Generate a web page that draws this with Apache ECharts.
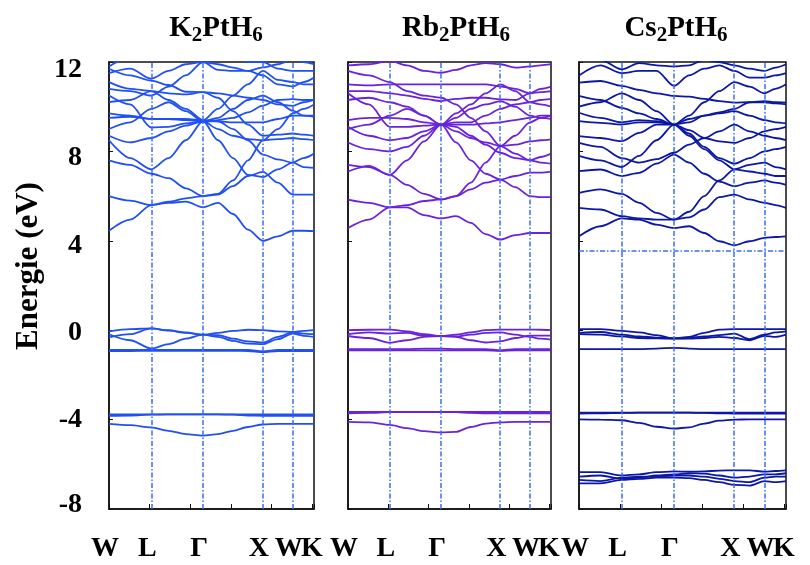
<!DOCTYPE html>
<html>
<head>
<meta charset="utf-8">
<script src="https://cdn.jsdelivr.net/npm/echarts@6/dist/echarts.min.js"></script>
<style>
  html, body { margin: 0; padding: 0; background: #fff; }
  #chart { width: 810px; height: 565px; }
</style>
</head>
<body>
<div id="chart"></div>
<script>
// k-path W-L-Γ-X-W-K (distance in units of 2π/a) and the sampled points along it
const kPath = [0, 0.354, 0.707, 0.996, 1.284, 1.573, 1.823, 2.073, 2.323, 2.573, 2.823, 3.073, 3.25, 3.427];
const symPoints = [0, 0.707, 1.573, 2.573, 3.073];
const symLabels = ['W', 'L', 'Γ', 'X', 'W'];
const endPoint = 3.427;
const endLabel = 'K';
const symLines = [0.707, 1.573, 2.573, 3.073];
const energyTicks = [-8, -4, 0, 4, 8, 12];
const compounds = [['K', '2', 'PtH', '6'], ['Rb', '2', 'PtH', '6'], ['Cs', '2', 'PtH', '6']];

// K2PtH6 bands (eV)
const bandsK = [
  [4.45, 4.95, 5.6, 5.7, 5.75, 5.5, 5.7, 5.2, 4.5, 4.0, 4.2, 4.45, 4.45, 4.43],
  [6.0, 5.8, 5.6, 5.75, 5.9, 6.0, 6.07, 6.45, 6.9, 7.08, 6.6, 6.07, 6.07, 6.07],
  [8.5, 7.7, 7.2, 7.7, 8.5, 9.35, 8.5, 7.7, 6.95, 6.85, 7.2, 7.5, 7.3, 7.26],
  [7.6, 7.4, 7.0, 6.8, 6.35, 6.0, 6.1, 6.7, 7.6, 8.5, 8.55, 8.6, 8.55, 8.5],
  [8.7, 8.4, 8.6, 8.9, 9.15, 9.35, 9.35, 9.0, 8.5, 7.86, 7.64, 7.5, 7.7, 7.9],
  [9.5, 9.55, 9.45, 9.45, 9.4, 9.35, 9.4, 9.5, 9.75, 10.05, 10.3, 10.34, 10.3, 10.3],
  [11.7, 11.4, 11.17, 10.97, 10.67, 10.65, 10.4, 9.8, 9.2, 8.7, 8.75, 8.8, 8.75, 8.7],
  [9.7, 9.6, 9.45, 9.45, 9.45, 9.4, 9.35, 9.3, 9.3, 9.3, 9.45, 9.6, 9.6, 9.6],
  [10.5, 10.1, 9.07, 9.1, 9.25, 9.35, 9.5, 9.9, 10.3, 10.5, 10.2, 9.82, 9.6, 9.55],
  [10.8, 10.7, 10.5, 10.9, 11.4, 12.0, 11.9, 11.75, 11.6, 11.4, 11.0, 10.9, 11.1, 11.3],
  [11.5, 11.7, 11.25, 11.6, 11.9, 12.0, 11.65, 11.6, 11.6, 11.76, 11.9, 12.1, 12.0, 11.9],
  [11.8, 12.2, 12.4, 12.5, 12.5, 12.5, 12.3, 12.2, 12.0, 12.0, 11.7, 11.6, 11.6, 11.6],
  [10.2, 10.3, 10.7, 10.6, 10.55, 10.65, 10.6, 10.5, 10.4, 10.3, 10.1, 10.04, 10.2, 10.3],
  [9.0, 9.3, 9.9, 10.2, 9.8, 9.35, 9.0, 8.7, 8.55, 8.5, 9.0, 9.7, 9.9, 10.1],
  [11.1, 10.8, 10.7, 10.3, 9.9, 9.4, 9.9, 10.5, 11.0, 11.6, 11.2, 11.1, 11.0, 11.0],
  [-0.05, 0.05, 0.08, 0.0, -0.1, -0.2, -0.12, -0.03, 0.02, 0.0, -0.05, -0.08, -0.03, 0.0],
  [-0.18, -0.45, -0.82, -0.62, -0.38, -0.2, -0.3, -0.48, -0.6, -0.62, -0.4, -0.15, -0.25, -0.3],
  [-0.32, -0.18, 0.08, -0.02, -0.12, -0.2, -0.22, -0.38, -0.5, -0.55, -0.3, -0.1, -0.15, -0.18],
  [-0.88, -0.88, -0.88, -0.88, -0.88, -0.88, -0.88, -0.88, -0.88, -0.95, -0.88, -0.88, -0.88, -0.88],
  [-0.93, -0.93, -0.92, -0.92, -0.92, -0.92, -0.92, -0.92, -0.93, -0.98, -0.93, -0.93, -0.93, -0.93],
  [-3.77, -3.77, -3.77, -3.77, -3.77, -3.77, -3.77, -3.77, -3.77, -3.77, -3.77, -3.77, -3.77, -3.77],
  [-3.83, -3.82, -3.78, -3.77, -3.77, -3.77, -3.77, -3.78, -3.82, -3.83, -3.83, -3.83, -3.83, -3.83],
  [-4.19, -4.25, -4.35, -4.5, -4.65, -4.72, -4.65, -4.5, -4.33, -4.22, -4.19, -4.19, -4.19, -4.19]
];

// Rb2PtH6 bands (eV)
const bandsRb = [
  [4.57, 4.95, 5.5, 5.5, 5.15, 5.0, 5.1, 4.8, 4.3, 4.05, 4.25, 4.35, 4.35, 4.35],
  [5.84, 5.7, 5.5, 5.6, 5.78, 5.85, 6.0, 6.3, 6.6, 6.74, 6.4, 6.0, 5.95, 5.95],
  [7.1, 7.35, 6.95, 7.6, 8.45, 9.2, 8.4, 7.6, 7.0, 6.74, 6.9, 7.05, 7.05, 7.1],
  [7.4, 7.3, 6.95, 6.5, 6.1, 5.85, 6.0, 6.6, 7.5, 8.24, 7.9, 7.6, 7.75, 7.9],
  [8.4, 8.1, 8.0, 8.2, 8.7, 9.2, 9.1, 8.7, 8.3, 7.94, 7.7, 7.6, 7.5, 7.45],
  [9.1, 8.7, 8.5, 8.6, 8.9, 9.2, 9.3, 9.3, 9.6, 9.9, 10.1, 10.2, 10.3, 10.35],
  [11.6, 11.4, 11.1, 10.7, 10.5, 10.4, 10.1, 9.5, 8.9, 8.24, 8.3, 8.45, 8.5, 8.54],
  [9.4, 9.5, 9.5, 9.45, 9.3, 9.2, 9.2, 9.2, 9.25, 9.3, 9.4, 9.5, 9.6, 9.6],
  [10.6, 10.1, 9.1, 9.1, 9.15, 9.2, 9.5, 9.9, 10.1, 10.25, 10.0, 9.6, 9.5, 9.45],
  [10.7, 10.7, 10.6, 10.5, 10.35, 10.25, 10.35, 10.4, 10.4, 10.33, 10.3, 10.6, 10.8, 10.9],
  [11.0, 10.95, 11.0, 11.0, 11.0, 11.0, 11.0, 11.0, 11.0, 10.9, 10.8, 10.6, 10.65, 10.7],
  [11.85, 11.9, 12.05, 11.85, 11.6, 11.52, 11.65, 11.85, 11.95, 11.9, 11.75, 11.8, 11.85, 11.9],
  [9.0, 9.2, 9.6, 9.9, 9.6, 9.2, 8.9, 8.6, 8.4, 8.24, 8.7, 9.3, 9.5, 9.6],
  [10.3, 10.4, 10.2, 10.0, 9.6, 9.2, 9.7, 10.1, 10.6, 11.0, 10.7, 10.2, 10.1, 10.0],
  [0.0, 0.02, 0.03, -0.05, -0.18, -0.26, -0.2, -0.1, 0.0, 0.03, 0.03, 0.03, 0.02, 0.0],
  [-0.26, -0.35, -0.56, -0.45, -0.3, -0.26, -0.3, -0.45, -0.55, -0.5, -0.35, -0.24, -0.24, -0.24],
  [-0.18, -0.1, -0.15, -0.12, -0.25, -0.26, -0.28, -0.2, -0.12, -0.1, -0.2, -0.3, -0.38, -0.42],
  [-0.85, -0.85, -0.85, -0.85, -0.82, -0.82, -0.85, -0.85, -0.85, -0.9, -0.85, -0.85, -0.85, -0.85],
  [-0.9, -0.9, -0.9, -0.9, -0.9, -0.9, -0.9, -0.9, -0.9, -0.92, -0.9, -0.9, -0.9, -0.9],
  [-3.66, -3.66, -3.66, -3.66, -3.66, -3.66, -3.66, -3.66, -3.66, -3.66, -3.66, -3.66, -3.66, -3.66],
  [-3.72, -3.7, -3.67, -3.67, -3.67, -3.67, -3.67, -3.7, -3.72, -3.72, -3.72, -3.72, -3.72, -3.72],
  [-4.1, -4.12, -4.24, -4.38, -4.52, -4.57, -4.55, -4.33, -4.18, -4.12, -4.1, -4.1, -4.1, -4.1]
];

// Cs2PtH6 bands (eV)
const bandsCs = [
  [4.2, 4.65, 5.0, 4.95, 4.72, 4.57, 4.65, 4.35, 3.98, 3.8, 3.98, 4.13, 4.17, 4.2],
  [5.47, 5.4, 5.1, 5.0, 4.95, 4.95, 5.05, 5.4, 5.95, 6.07, 5.85, 5.7, 5.6, 5.47],
  [6.14, 6.3, 6.1, 5.7, 5.25, 4.95, 5.3, 6.0, 6.7, 7.2, 7.4, 7.5, 7.3, 7.2],
  [7.12, 7.19, 6.9, 7.04, 7.45, 7.86, 7.5, 7.0, 6.65, 6.44, 6.6, 6.7, 6.6, 6.5],
  [8.38, 8.2, 7.7, 7.5, 7.65, 7.94, 8.3, 8.6, 8.9, 9.2, 8.9, 8.7, 8.6, 8.5],
  [8.68, 8.6, 8.46, 8.83, 9.2, 9.2, 8.8, 8.2, 7.7, 7.45, 7.7, 8.0, 8.1, 8.2],
  [9.35, 9.28, 9.2, 9.3, 9.3, 9.2, 8.95, 8.6, 8.45, 8.38, 8.6, 8.9, 9.0, 9.1],
  [9.73, 9.5, 9.3, 9.4, 9.35, 9.2, 9.45, 9.6, 9.7, 9.8, 9.6, 9.4, 9.3, 9.25],
  [10.48, 10.3, 9.95, 9.7, 9.45, 9.2, 9.3, 9.6, 9.75, 9.9, 10.2, 10.2, 10.15, 10.1],
  [11.08, 11.15, 10.93, 10.75, 10.6, 10.48, 10.45, 10.35, 10.25, 10.18, 10.2, 10.25, 10.2, 10.18],
  [11.4, 11.85, 11.5, 11.6, 11.6, 10.93, 11.4, 11.7, 11.85, 11.6, 11.3, 11.3, 11.4, 11.5],
  [12.2, 12.1, 11.67, 11.95, 11.85, 11.8, 11.85, 12.1, 12.0, 11.85, 11.7, 11.6, 11.75, 11.9],
  [10.0, 10.2, 10.6, 10.3, 9.8, 9.2, 9.6, 10.2, 10.7, 11.1, 10.9, 10.6, 10.8, 11.0],
  [7.8, 7.6, 7.3, 7.8, 8.5, 9.2, 8.7, 8.1, 7.6, 7.2, 7.1, 7.0, 6.9, 6.9],
  [0.05, 0.05, -0.03, -0.1, -0.22, -0.37, -0.3, -0.12, 0.03, 0.05, 0.05, 0.05, 0.05, 0.05],
  [-0.12, -0.08, -0.2, -0.28, -0.33, -0.37, -0.35, -0.28, -0.22, -0.15, -0.4, -0.2, -0.1, -0.05],
  [-0.18, -0.2, -0.28, -0.35, -0.37, -0.38, -0.38, -0.35, -0.3, -0.35, -0.45, -0.25, -0.3, -0.2],
  [-0.85, -0.85, -0.85, -0.85, -0.82, -0.79, -0.82, -0.85, -0.85, -0.85, -0.85, -0.85, -0.85, -0.85],
  [-3.69, -3.69, -3.69, -3.69, -3.69, -3.69, -3.69, -3.69, -3.69, -3.69, -3.69, -3.69, -3.69, -3.69],
  [-3.73, -3.72, -3.7, -3.69, -3.69, -3.69, -3.69, -3.7, -3.72, -3.73, -3.73, -3.73, -3.73, -3.73],
  [-3.99, -4.0, -4.03, -4.15, -4.32, -4.4, -4.35, -4.18, -4.05, -4.0, -3.99, -3.99, -3.99, -3.99],
  [-6.35, -6.35, -6.5, -6.45, -6.35, -6.32, -6.33, -6.32, -6.28, -6.27, -6.27, -6.33, -6.3, -6.27],
  [-6.55, -6.5, -6.65, -6.6, -6.5, -6.45, -6.4, -6.42, -6.5, -6.6, -6.55, -6.45, -6.45, -6.4],
  [-6.7, -6.75, -6.6, -6.55, -6.55, -6.5, -6.5, -6.55, -6.65, -6.75, -6.8, -6.6, -6.55, -6.55],
  [-6.85, -6.85, -6.7, -6.65, -6.6, -6.6, -6.62, -6.7, -6.8, -6.92, -6.95, -6.75, -6.8, -6.75]
];
// horizontal reference level drawn in the Cs2PtH6 panel (eV)
const csLevel = 3.55;

const panelBands = [bandsK, bandsRb, bandsCs];
const panelColors = ['#2150f2', '#6a22dc', '#0c18a4'];
const gridLefts = [109, 348, 579];
const gridWidths = [205, 203, 207];
const titleCenters = [211, 451, 671];
// vertical nudge (px) of each energy label, listed in energyTicks order
const tickNudge = [-4, 0, 3, 5, 6, 8];

const serif = '"Liberation Serif", "DejaVu Serif", serif';
const guideStyle = { color: '#3d6cf7', width: 1.5, type: [5, 2, 1.5, 2] };
const labelFont = { fontFamily: serif, fontWeight: 'bold', fontSize: 28, color: '#000' };

const chart = echarts.init(document.getElementById('chart'), null, { renderer: 'canvas' });

const grids = gridLefts.map((l, i) => ({
  left: l, top: 62, width: gridWidths[i], height: 447,
  show: true, borderColor: '#111', borderWidth: 1.5, backgroundColor: 'transparent'
}));

// main k axes (ticks + high-symmetry labels) for each panel
const xAxes = gridLefts.map((_, i) => ({
  type: 'value', gridIndex: i, min: 0, max: endPoint, interval: 0.68,
  splitLine: { show: false },
  axisLine: { show: true, onZero: false, lineStyle: { color: '#111', width: 1.5 } },
  axisTick: { show: true, inside: true, length: 5, lineStyle: { color: '#111' } },
  axisLabel: Object.assign({
    show: true, customValues: symPoints, margin: 26, padding: [0, 8, 0, 0],
    showMinLabel: true, hideOverlap: false,
    formatter: v => {
      const idx = symPoints.findIndex(p => Math.abs(p - v) < 1e-6);
      return idx >= 0 ? symLabels[idx] : '';
    }
  }, labelFont)
}));
// companion axes carrying only the path end label K
gridLefts.forEach((_, i) => {
  xAxes.push({
    type: 'value', gridIndex: i, min: 0, max: endPoint, position: 'bottom',
    splitLine: { show: false },
    axisLine: { show: false, onZero: false },
    axisTick: { show: false },
    axisLabel: Object.assign({
      show: true, customValues: [endPoint], margin: 26, showMaxLabel: true,
      padding: [0, 4, 0, 0],
      formatter: () => endLabel
    }, labelFont)
  });
});

const tickRich = {};
energyTicks.forEach((t, i) => {
  const d = tickNudge[i];
  tickRich['t' + i] = Object.assign({
    padding: d >= 0 ? [2 * d, 0, 0, 0] : [0, 0, -2 * d, 0]
  }, labelFont);
});

const yAxes = gridLefts.map((_, i) => ({
  type: 'value', gridIndex: i, min: -8, max: 12, interval: 4,
  splitLine: { show: false },
  axisLine: { show: true, onZero: false, lineStyle: { color: '#111', width: 1.5 } },
  axisTick: { show: true, inside: true, length: 4, lineStyle: { color: '#111' } },
  axisLabel: {
    show: i === 0, margin: 27,
    formatter: v => {
      const idx = energyTicks.indexOf(v);
      return idx >= 0 ? `{t${idx}|${v}}` : '';
    },
    rich: tickRich
  }
}));

const series = [];
panelBands.forEach((bands, p) => {
  bands.forEach((band, b) => {
    const s = {
      type: 'line', xAxisIndex: p, yAxisIndex: p,
      data: kPath.map((k, i) => [k, band[i]]),
      showSymbol: false, smooth: 0.3, smoothMonotone: 'x',
      lineStyle: { color: panelColors[p], width: 1.8 },
      silent: true, animation: false, clip: true, z: 3
    };
    if (b === 0) {
      const lines = symLines.map(x => ({ xAxis: x }));
      if (p === 2) lines.push({ yAxis: csLevel });
      s.markLine = {
        symbol: 'none', silent: true, animation: false,
        label: { show: false }, lineStyle: guideStyle, data: lines
      };
    }
    series.push(s);
  });
});

const titleRich = {
  m: { fontFamily: serif, fontWeight: 'bold', fontSize: 29, color: '#000' },
  s: { fontFamily: serif, fontWeight: 'bold', fontSize: 21, color: '#000', padding: [14, 0, 0, 0] }
};

const option = {
  backgroundColor: '#fff',
  animation: false,
  title: compounds.map((c, i) => ({
    text: `{m|${c[0]}}{s|${c[1]}}{m|${c[2]}}{s|${c[3]}}`,
    left: titleCenters[i], top: 6, textAlign: 'center',
    textStyle: { rich: titleRich }
  })),
  grid: grids,
  xAxis: xAxes,
  yAxis: yAxes,
  series: series,
  graphic: [{
    type: 'text', x: 29, y: 266, rotation: Math.PI / 2,
    style: {
      text: 'Energie (eV)', fontFamily: serif, fontWeight: 'bold', fontSize: 31,
      fill: '#000', align: 'center', verticalAlign: 'middle'
    }
  }]
};

chart.setOption(option);
</script>
</body>
</html>
